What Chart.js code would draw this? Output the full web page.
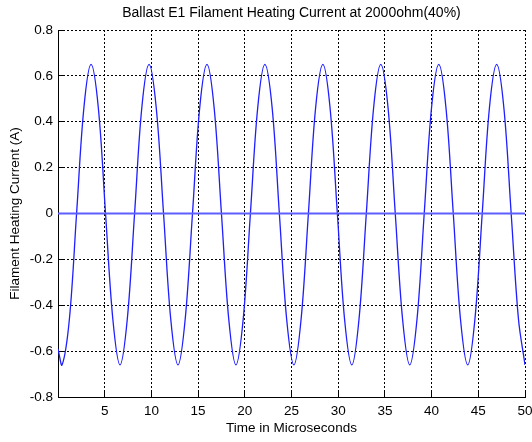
<!DOCTYPE html>
<html>
<head>
<meta charset="utf-8">
<script src="https://cdn.jsdelivr.net/npm/chart.js@4"></script>
<style>
  html, body { margin: 0; padding: 0; background: #fff; }
  #wrap { width: 532px; height: 442px; }
</style>
</head>
<body>
<div id="wrap"><canvas id="heatChart" width="532" height="442"></canvas></div>
<script>
// values
const timeUs = [
    0.00,
    0.44, 1.22, 1.99, 2.77, 3.54, 4.32, 5.09, 5.87,
    6.64, 7.42, 8.20, 8.97, 9.75, 10.52, 11.30, 12.07,
    12.85, 13.62, 14.40, 15.17, 15.95, 16.72, 17.50, 18.28,
    19.05, 19.83, 20.60, 21.38, 22.15, 22.93, 23.70, 24.48,
    25.26, 26.03, 26.81, 27.58, 28.36, 29.13, 29.91, 30.68,
    31.46, 32.23, 33.01, 33.79, 34.56, 35.34, 36.11, 36.89,
    37.66, 38.44, 39.21, 39.99, 40.77, 41.54, 42.32, 43.09,
    43.87, 44.64, 45.42, 46.19, 46.97, 47.74, 48.52, 49.30,
    50.00
];

const currentA = [
    -0.59,
    -0.66, -0.46, 0.00, 0.46, 0.65, 0.46, 0.00, -0.46,
    -0.66, -0.46, 0.00, 0.46, 0.65, 0.46, 0.00, -0.46,
    -0.66, -0.46, 0.00, 0.46, 0.65, 0.46, 0.00, -0.46,
    -0.66, -0.46, 0.00, 0.46, 0.65, 0.46, 0.00, -0.46,
    -0.66, -0.46, 0.00, 0.46, 0.65, 0.46, 0.00, -0.46,
    -0.66, -0.46, 0.00, 0.46, 0.65, 0.46, 0.00, -0.46,
    -0.66, -0.46, 0.00, 0.46, 0.65, 0.46, 0.00, -0.46,
    -0.66, -0.46, 0.00, 0.46, 0.65, 0.46, 0.00, -0.46,
    -0.66
];

const zeroTime = [0, 50];
const zeroLevel = [0, 0];

const xTicks = [5, 10, 15, 20, 25, 30, 35, 40, 45, 50];
const yTicks = [-0.8, -0.6, -0.4, -0.2, 0, 0.2, 0.4, 0.6, 0.8];

const chartTitle = 'Ballast E1 Filament Heating Current at 2000ohm(40%)';
const xTitle = 'Time in Microseconds';
const yTitle = 'Filament Heating Current (A)';

const font = "'Liberation Sans', Arial, sans-serif";

const whiteBg = {
    id: 'whiteBg',
    beforeDraw(chart) {
        const ctx = chart.ctx;
        ctx.save();
        ctx.fillStyle = '#fff';
        ctx.fillRect(0, 0, chart.width, chart.height);
        ctx.restore();
    }
};

const canvas = document.getElementById('heatChart');

new Chart(canvas, {
    type: 'line',
    data: {
        datasets: [
            {
                data: zeroTime.map((t, i) => ({ x: t, y: zeroLevel[i] })),
                borderColor: 'rgb(95,95,255)',
                borderWidth: 2,
                pointRadius: 0,
                tension: 0
            },
            {
                data: timeUs.map((t, i) => ({ x: t, y: currentA[i] })),
                borderColor: 'rgb(30,30,255)',
                borderWidth: 1.3,
                pointRadius: 0,
                tension: 0.35
            }
        ]
    },
    options: {
        responsive: false,
        animation: false,
        events: [],
        layout: { padding: { left: 0, right: 7, top: 0, bottom: 0 } },
        plugins: {
            legend: { display: false },
            tooltip: { enabled: false },
            title: { display: false }
        },
        scales: {
            // top axis only carries the chart title, centred over the plot
            top: {
                type: 'linear',
                position: 'top',
                min: 0,
                max: 50,
                afterFit: axis => {
                    axis.height = 30;
                    axis.paddingLeft = 0;
                    axis.paddingRight = 0;
                },
                ticks: { display: false },
                grid: { display: false, drawTicks: false },
                border: { display: false },
                title: {
                    display: true,
                    text: chartTitle,
                    color: '#000',
                    font: { family: font, size: 14 },
                    padding: { top: 4.6, bottom: 0 }
                }
            },
            x: {
                type: 'linear',
                min: 0,
                max: 50,
                afterBuildTicks: axis => {
                    axis.ticks = [0].concat(xTicks).map(v => ({ value: v }));
                },
                afterFit: axis => {
                    axis.height = 45;
                    axis.paddingLeft = 0;
                    axis.paddingRight = 0;
                },
                ticks: {
                    color: '#000',
                    font: { family: font, size: 13.5 },
                    padding: 11,
                    maxRotation: 0,
                    callback: v => (v === 0 ? '' : String(v))
                },
                grid: {
                    color: '#000',
                    lineWidth: 1,
                    drawTicks: true,
                    tickLength: -5,
                    tickColor: '#000',
                    tickBorderDash: []
                },
                border: { display: true, color: '#000', width: 1, dash: [2, 2] },
                title: {
                    display: true,
                    text: xTitle,
                    color: '#000',
                    font: { family: font, size: 13.5 },
                    padding: { top: 0, bottom: 6 }
                }
            },
            y: {
                min: -0.8,
                max: 0.8,
                afterBuildTicks: axis => {
                    axis.ticks = yTicks.map(v => ({ value: v }));
                },
                afterFit: axis => {
                    axis.width = 58;
                    axis.paddingTop = 0;
                    axis.paddingBottom = 0;
                },
                ticks: {
                    color: '#000',
                    font: { family: font, size: 13.5 },
                    padding: 10,
                    callback: v => (Math.abs(v) < 1e-9 ? '0' : v.toFixed(1))
                },
                grid: {
                    color: '#000',
                    lineWidth: 1,
                    drawTicks: true,
                    tickLength: -5,
                    tickColor: '#000',
                    tickBorderDash: []
                },
                border: { display: true, color: '#000', width: 1, dash: [2, 2] },
                title: {
                    display: true,
                    text: yTitle,
                    color: '#000',
                    font: { family: font, size: 13.5 },
                    padding: { top: 7, bottom: 4 }
                }
            }
        }
    },
    plugins: [whiteBg]
});
</script>
</body>
</html>
